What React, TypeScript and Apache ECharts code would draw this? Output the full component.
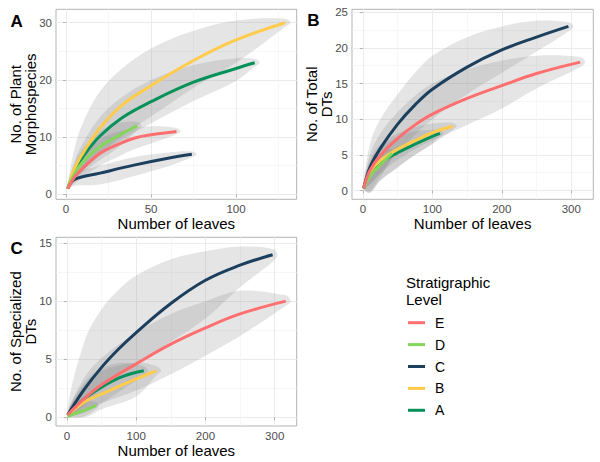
import React, { useEffect, useRef } from "react";
import * as echarts from "echarts";

// ---------- Data ----------
const levels = ["E", "D", "C", "B", "A"];
const drawOrder = ["A", "B", "C", "D", "E"];

// Panel A: No. of Plant Morphospecies vs Number of leaves
const plantE = { x: [1, 5, 10, 20, 30, 40, 50, 65], y: [1, 3.0, 4.6, 7.2, 8.65, 9.8, 10.4, 11], hi: [1, 4.5, 6.6, 9.6, 10.9, 11.6, 11.9, 11.6], lo: [1, 1.9, 3.0, 5.0, 6.5, 7.9, 8.9, 10.5], tip: 67.5 };
const plantD = { x: [1, 5, 10, 20, 30, 42], y: [1, 3.6, 5.7, 8.35, 10.1, 12], hi: [1, 5.2, 8.0, 11.0, 12.4, 12.7], lo: [1, 2.3, 3.8, 6.0, 8.0, 11.3], tip: 44.5 };
const plantC = { x: [1, 5, 20, 40, 60, 74], y: [1, 2.6, 3.7, 5.1, 6.3, 7], hi: [1, 3.6, 5.0, 6.5, 7.3, 7.5], lo: [1, 1.5, 1.7, 3.2, 4.9, 6.5], tip: 77 };
const plantB = { x: [1, 5, 10, 20, 33, 50, 75, 100, 129], y: [1, 4.5, 7.2, 11.6, 15.6, 19.0, 23.4, 27.0, 30.0], hi: [1, 8.0, 12.5, 18.0, 22.0, 25.5, 28.6, 30.4, 30.7], lo: [1, 2.5, 4.2, 7.0, 10.2, 13.6, 18.6, 23.0, 29.3], tip: 132 };
const plantA = { x: [1, 5, 10, 20, 33, 50, 75, 100, 111], y: [1, 4.2, 6.6, 10.2, 13.4, 16.2, 19.6, 22.0, 23], hi: [1, 5.8, 9.0, 13.5, 17.0, 20.0, 22.6, 23.8, 23.7], lo: [1, 2.6, 4.2, 6.8, 9.6, 12.4, 16.3, 19.8, 22.3], tip: 114 };

// Panel B: No. of Total DTs
const totalE = { x: [1, 10, 25, 50, 75, 100, 150, 200, 250, 313], y: [0.3, 2.8, 4.9, 7.3, 9.2, 10.7, 12.9, 14.7, 16.4, 18], hi: [0.3, 5.0, 8.0, 11.0, 13.3, 15.0, 17.0, 18.2, 18.9, 18.7], lo: [0.3, 1.0, 2.4, 4.3, 5.8, 7.0, 9.2, 11.5, 14.3, 17.3], tip: 320 };
const totalD = { x: [1, 10, 20, 30, 42], y: [0.3, 2.0, 3.1, 4.1, 5.2], hi: [0.3, 3.3, 4.6, 5.5, 5.8], lo: [0.3, 0.0, 1.2, 2.6, 4.6], tip: 46 };
const totalC = { x: [1, 10, 25, 50, 75, 100, 150, 200, 250, 296], y: [0.3, 3.2, 5.9, 9.3, 12.0, 14.2, 17.3, 19.7, 21.5, 23], hi: [0.3, 6.5, 10, 13.5, 16.5, 18.9, 21.5, 23, 23.8, 23.6], lo: [0.3, 0.8, 2.4, 5.3, 7.8, 10, 13.5, 16.5, 19.5, 22.3], tip: 303 };
const totalB = { x: [1, 10, 25, 50, 75, 100, 129], y: [0.3, 2.6, 4.2, 5.8, 7.0, 8.1, 9.0], hi: [0.3, 4.2, 6.5, 8.0, 8.9, 9.4, 9.5], lo: [0.3, -0.3, 1.4, 3.3, 5.0, 6.5, 8.5], tip: 135 };
const totalA = { x: [1, 10, 25, 50, 75, 100, 111], y: [0.3, 2.4, 3.9, 5.3, 6.5, 7.6, 8.0], hi: [0.3, 4.0, 6.0, 7.5, 8.3, 8.5, 8.4], lo: [0.3, -0.3, 1.4, 3.2, 5.0, 6.6, 7.6], tip: 116 };

// Panel C: No. of Specialized DTs
const specE = { x: [1, 25, 50, 100, 150, 200, 250, 316], y: [0.2, 1.6, 2.8, 4.6, 6.3, 7.7, 8.9, 10], hi: [0.2, 3.4, 5.1, 7.3, 8.9, 10.0, 10.9, 10.5], lo: [0.2, 0.5, 1.2, 2.3, 3.7, 5.3, 7.0, 9.6], tip: 323 };
const specD = { x: [1, 10, 25, 42], y: [0.05, 0.3, 0.6, 1.0], hi: [0.05, 0.9, 1.4, 1.3], lo: [0.05, 0, 0.1, 0.7], tip: 46 };
const specC = { x: [1, 25, 50, 75, 100, 150, 200, 250, 297], y: [0.2, 2.4, 4.3, 5.9, 7.3, 9.8, 11.8, 13.1, 14], hi: [0.2, 6.5, 9.3, 11.0, 12.2, 13.6, 14.3, 14.7, 14.5], lo: [0.2, 1.0, 2.5, 3.6, 4.6, 6.5, 8.5, 11.2, 13.4], tip: 304 };
const specB = { x: [1, 25, 50, 100, 129], y: [0.2, 1.3, 2.0, 3.3, 4.0], hi: [0.2, 2.8, 4.0, 4.7, 4.4], lo: [0.2, 0, 0.7, 1.8, 3.6], tip: 136 };
const specA = { x: [1, 25, 50, 80, 111], y: [0.2, 1.6, 2.6, 3.5, 4.0], hi: [0.2, 3.0, 4.2, 4.7, 4.4], lo: [0.2, 0.4, 1.2, 2.4, 3.6], tip: 117 };

// Axis ranges / ticks
const xTicksA = [0, 50, 100];
const xMinorA = [25, 75, 125];
const yTicksA = [0, 10, 20, 30];
const yMinorA = [5, 15, 25];
const xTicksBC = [0, 100, 200, 300];
const xMinorBC = [50, 150, 250];
const yTicksB = [0, 5, 10, 15, 20, 25];
const yMinorB = [2.5, 7.5, 12.5, 17.5, 22.5];
const yTicksC = [0, 5, 10, 15];
const yMinorC = [2.5, 7.5, 12.5];

const panelTitles = ["Number of leaves", "Number of leaves", "Number of leaves"];
const yTitles = ["No. of Plant\nMorphospecies", "No. of Total\nDTs", "No. of Specialized\nDTs"];
const panelLetters = ["A", "B", "C"];
const legendTitle = "Stratigraphic\nLevel";

// ---------- Styles ----------
const colors: Record<string, string> = {
  E: "#FF6F6F",
  D: "#84D65A",
  C: "#1C3F5E",
  B: "#FFCB4A",
  A: "#05925A",
};
const FONT = '"Liberation Sans", Arial, Helvetica, sans-serif';

const panels = [
  { data: { A: plantA, B: plantB, C: plantC, D: plantD, E: plantE } as any, xr: [-5.9, 135.7], yr: [-0.87, 32.35], xt: xTicksA, xm: xMinorA, yt: yTicksA, ym: yMinorA, grid: { left: 56, top: 9.3, width: 240.7, height: 190 } },
  { data: { A: totalA, B: totalB, C: totalC, D: totalD, E: totalE } as any, xr: [-15.8, 331.8], yr: [-1.23, 25.4], xt: xTicksBC, xm: xMinorBC, yt: yTicksB, ym: yMinorB, grid: { left: 352, top: 9.3, width: 241.3, height: 190 } },
  { data: { A: specA, B: specB, C: specC, D: specD, E: specE } as any, xr: [-15.8, 331.8], yr: [-0.75, 15.5], xt: xTicksBC, xm: xMinorBC, yt: yTicksC, ym: yMinorC, grid: { left: 56, top: 237.3, width: 240.7, height: 188.7 } },
];

function mainAxis(gridIndex: number, range: number[], ticks: number[]) {
  return {
    type: "value",
    gridIndex,
    min: range[0],
    max: range[1],
    axisLine: { show: false },
    axisTick: { show: true, length: 3, lineStyle: { color: "#b3b3b3", width: 1 }, customValues: ticks },
    axisLabel: { show: true, customValues: ticks, color: "#4d4d4d", fontSize: 11.5, fontFamily: FONT, margin: 4, lineHeight: 12 },
    splitLine: { show: true, lineStyle: { color: "#ebebeb", width: 1 } },
  };
}
function minorAxis(gridIndex: number, range: number[], ticks: number[]) {
  return {
    type: "value",
    gridIndex,
    min: range[0],
    max: range[1],
    axisLine: { show: false },
    axisTick: { show: false, customValues: ticks },
    axisLabel: { show: false, customValues: ticks },
    splitLine: { show: true, lineStyle: { color: "#f3f3f3", width: 0.7 } },
  };
}

function buildOption() {
  const grid: any[] = [];
  const xAxis: any[] = [];
  const yAxis: any[] = [];
  const series: any[] = [];
  const graphic: any[] = [];

  panels.forEach((p, i) => {
    grid.push({ ...p.grid, show: true, borderColor: "#b3b3b3", borderWidth: 1, backgroundColor: "transparent", containLabel: false });
    xAxis.push(mainAxis(i, p.xr, p.xt));
    xAxis.push(minorAxis(i, p.xr, p.xm));
    yAxis.push(mainAxis(i, p.yr, p.yt));
    yAxis.push(minorAxis(i, p.yr, p.ym));

    // bands
    drawOrder.forEach((lv) => {
      const d = p.data[lv];
      const n = d.x.length;
      const poly: number[][] = [];
      for (let k = 0; k < n; k++) poly.push([d.x[k], d.hi[k]]);
      poly.push([d.tip, d.y[n - 1]]);
      for (let k = n - 1; k >= 1; k--) poly.push([d.x[k], d.lo[k]]);
      series.push({
        type: "custom",
        xAxisIndex: 2 * i,
        yAxisIndex: 2 * i,
        data: [[d.x[0], d.y[0]]],
        clip: true,
        silent: true,
        z: 1,
        renderItem: (_params: any, api: any) => ({
          type: "polygon",
          shape: { points: poly.map((pt) => api.coord(pt)), smooth: 0.35 },
          style: { fill: "rgba(127,127,127,0.2)" },
        }),
      });
    });
    // lines
    drawOrder.forEach((lv) => {
      const d = p.data[lv];
      series.push({
        type: "line",
        name: lv,
        xAxisIndex: 2 * i,
        yAxisIndex: 2 * i,
        data: d.x.map((x: number, k: number) => [x, d.y[k]]),
        smooth: 0.4,
        showSymbol: false,
        symbol: "none",
        lineStyle: { width: 3, color: colors[lv], cap: "butt" },
        itemStyle: { color: colors[lv] },
        z: 3,
        silent: true,
      });
    });

    const g = p.grid;
    const cx = g.left + g.width / 2;
    const cy = g.top + g.height / 2;
    graphic.push({
      type: "text",
      x: cx,
      y: g.top + g.height + 24,
      style: { text: panelTitles[i], font: `15px ${FONT}`, fill: "#000", textAlign: "center", textVerticalAlign: "middle" },
    });
    graphic.push({
      type: "text",
      x: g.left - 33.5,
      y: cy,
      rotation: Math.PI / 2,
      style: { text: yTitles[i], font: `15px ${FONT}`, fill: "#000", textAlign: "center", textVerticalAlign: "middle", lineHeight: 15 },
    });
  });

  graphic.push({ type: "text", x: 16.7, y: 21.7, style: { text: panelLetters[0], font: `bold 17px ${FONT}`, fill: "#000", textAlign: "center", textVerticalAlign: "middle" } });
  graphic.push({ type: "text", x: 313.3, y: 20.5, style: { text: panelLetters[1], font: `bold 17px ${FONT}`, fill: "#000", textAlign: "center", textVerticalAlign: "middle" } });
  graphic.push({ type: "text", x: 16.7, y: 248.3, style: { text: panelLetters[2], font: `bold 17px ${FONT}`, fill: "#000", textAlign: "center", textVerticalAlign: "middle" } });
  graphic.push({ type: "text", x: 406, y: 290.5, style: { text: legendTitle, font: `15px ${FONT}`, fill: "#000", textAlign: "left", textVerticalAlign: "middle", lineHeight: 17 } });

  return {
    animation: false,
    backgroundColor: "#ffffff",
    grid,
    xAxis,
    yAxis,
    series,
    graphic,
    legend: {
      data: levels,
      orient: "vertical",
      left: 408,
      top: 314.7,
      padding: 0,
      icon: "rect",
      itemWidth: 17,
      itemHeight: 3,
      itemGap: 5.9,
      selectedMode: false,
      textStyle: { fontSize: 14, fontFamily: FONT, color: "#000", lineHeight: 16, padding: [0, 0, 0, 5] },
    },
  };
}

export default function App() {
  const ref = useRef<HTMLDivElement>(null);
  useEffect(() => {
    if (!ref.current) return;
    const chart = echarts.init(ref.current, undefined, { renderer: "svg" });
    chart.setOption(buildOption() as any);
    return () => chart.dispose();
  }, []);
  return (
    <div
      ref={ref}
      style={{ position: "fixed", left: 0, top: 0, width: 600, height: 462, background: "#fff" }}
    />
  );
}
